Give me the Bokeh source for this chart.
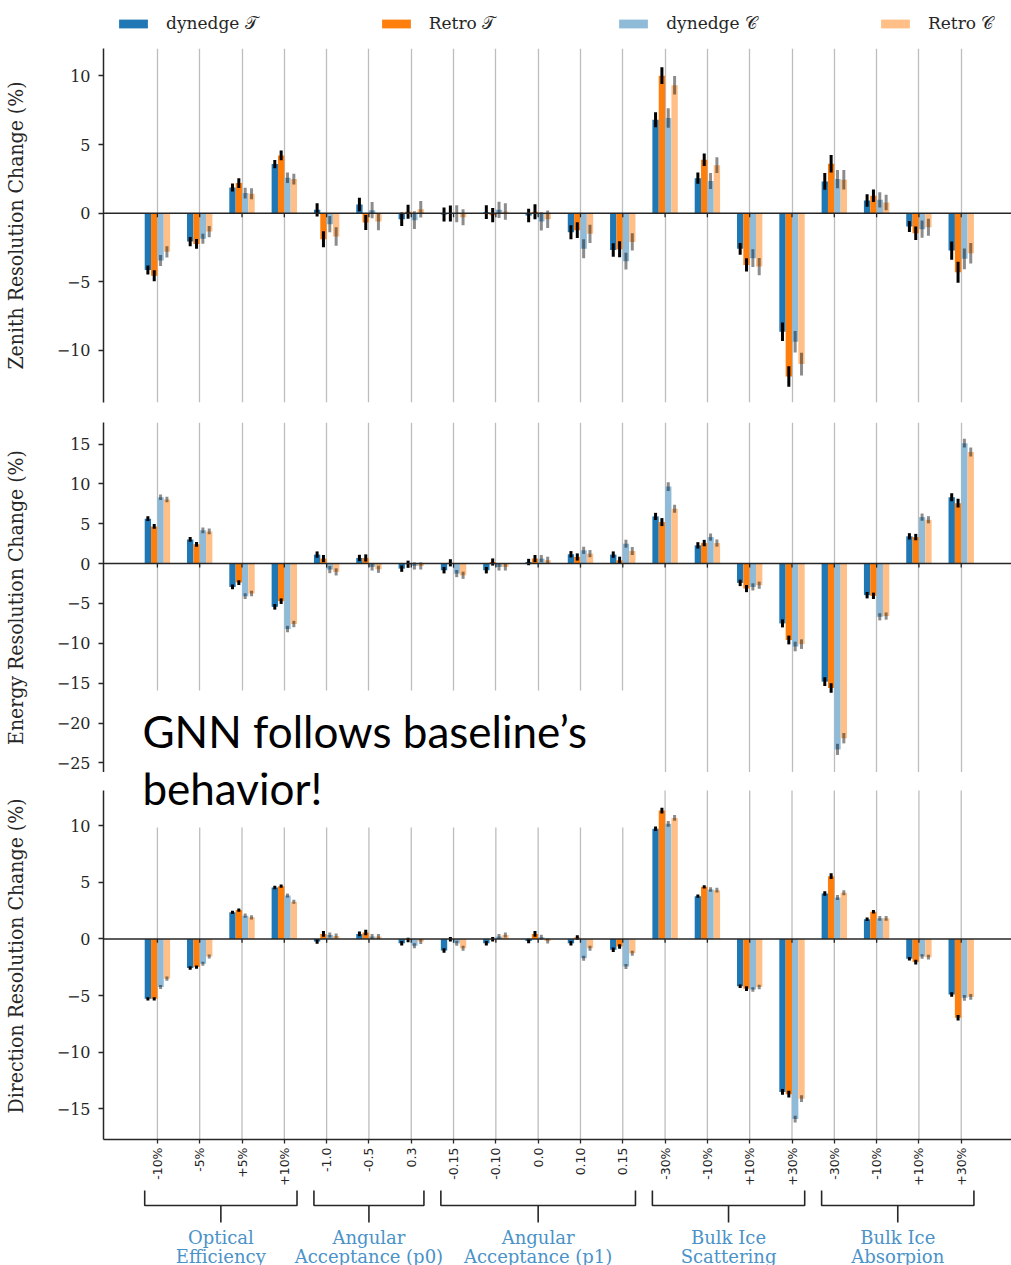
import numpy as np
from bokeh.plotting import figure
from bokeh.models import (Range1d, FixedTicker, Span, Legend, LegendItem,
                          BoxAnnotation, Label)
from bokeh.layouts import column
from bokeh.embed import file_html
from bokeh.resources import INLINE
from bokeh.core.properties import value

# ---------------- data ----------------
tick_labels = ["-10%", "-5%", "+5%", "+10%",
               "-1.0", "-0.5", "0.3",
               "-0.15", "-0.10", "0.0", "0.10", "0.15",
               "-30%", "-10%", "+10%", "+30%",
               "-30%", "-10%", "+10%", "+30%"]
group_names = ["Optical\nEfficiency", "Angular\nAcceptance (p0)",
               "Angular\nAcceptance (p1)", "Bulk Ice\nScattering",
               "Bulk Ice\nAbsorpion"]
group_first = [0, 4, 7, 12, 16]
group_last = [3, 6, 11, 15, 19]
series_names = ["dynedge \U0001D4AF", "Retro \U0001D4AF",
                "dynedge \U0001D49E", "Retro \U0001D49E"]

# Zenith resolution change (%)
zen_dyn_T = [-4.14, -2.07, 1.87, 3.58, 0.24, 0.63, -0.44, -0.10, 0.07, -0.17,
             -1.39, -2.68, 6.81, 2.55, -2.60, -8.64, 2.31, 0.92, -0.97, -2.73]
zen_ret_T = [-4.57, -2.24, 2.19, 4.21, -1.90, -0.68, 0.10, -0.02, -0.15, 0.10,
             -1.24, -2.63, 10.02, 3.89, -3.77, -11.90, 3.60, 1.27, -1.46, -4.31]
zen_dyn_C = [-3.45, -1.87, 1.46, 2.58, -0.80, 0.22, -0.51, -0.05, 0.24, -0.60,
             -2.60, -3.50, 6.93, 2.34, -3.28, -9.37, 2.48, 0.97, -1.17, -3.33]
zen_ret_C = [-2.82, -1.34, 1.41, 2.48, -1.70, -0.61, 0.29, -0.30, 0.12, -0.44,
             -1.51, -2.10, 9.32, 3.50, -3.89, -11.00, 2.43, 0.78, -1.02, -2.92]
zen_err_dyn_T = [0.33, 0.34, 0.30, 0.30, 0.49, 0.49, 0.49, 0.51, 0.50, 0.49,
                 0.51, 0.49, 0.55, 0.41, 0.43, 0.67, 0.61, 0.45, 0.40, 0.67]
zen_err_ret_T = [0.40, 0.36, 0.36, 0.36, 0.58, 0.55, 0.51, 0.58, 0.52, 0.55,
                 0.57, 0.58, 0.61, 0.46, 0.49, 0.75, 0.64, 0.46, 0.49, 0.77]
zen_err_dyn_C = [0.40, 0.36, 0.40, 0.39, 0.60, 0.60, 0.64, 0.62, 0.60, 0.67,
                 0.69, 0.61, 0.71, 0.58, 0.64, 0.79, 0.67, 0.56, 0.63, 0.75]
zen_err_ret_C = [0.41, 0.41, 0.40, 0.39, 0.67, 0.63, 0.60, 0.58, 0.60, 0.64,
                 0.67, 0.63, 0.67, 0.58, 0.63, 0.83, 0.71, 0.56, 0.62, 0.75]

# Energy resolution change (%)
ene_dyn_T = [5.63, 3.04, -2.92, -5.42, 1.13, 0.71, -0.63, -0.83, -0.83, 0.20,
             1.17, 1.13, 5.92, 2.29, -2.42, -7.50, -14.80, -3.96, 3.42, 8.33]
ene_ret_T = [4.67, 2.42, -2.38, -4.71, 0.63, 0.71, -0.08, 0.10, 0.20, 0.63,
             0.83, 0.42, 5.21, 2.58, -3.13, -9.58, -15.60, -4.04, 3.33, 7.58]
ene_dyn_C = [8.33, 4.17, -4.08, -8.21, -0.75, -0.42, -0.29, -1.25, -0.42, 0.63,
             1.67, 2.50, 9.67, 3.33, -2.92, -10.40, -23.30, -6.67, 5.83, 15.10]
ene_ret_C = [8.04, 4.04, -3.75, -7.58, -1.04, -0.71, -0.29, -1.46, -0.42, 0.42,
             1.25, 1.58, 6.88, 2.58, -2.71, -10.10, -21.90, -6.58, 5.50, 14.00]
ene_err_dyn_T = [0.30, 0.30, 0.30, 0.35, 0.40, 0.40, 0.40, 0.40, 0.40, 0.40,
                 0.40, 0.40, 0.45, 0.40, 0.40, 0.50, 0.55, 0.40, 0.40, 0.50]
ene_err_ret_T = [0.30, 0.30, 0.30, 0.35, 0.45, 0.45, 0.45, 0.45, 0.45, 0.45,
                 0.45, 0.45, 0.50, 0.40, 0.45, 0.55, 0.60, 0.40, 0.40, 0.55]
ene_err_dyn_C = [0.35, 0.35, 0.35, 0.40, 0.45, 0.45, 0.45, 0.45, 0.45, 0.45,
                 0.45, 0.50, 0.55, 0.45, 0.45, 0.60, 0.70, 0.45, 0.45, 0.55]
ene_err_ret_C = [0.35, 0.35, 0.35, 0.40, 0.45, 0.45, 0.45, 0.45, 0.45, 0.45,
                 0.45, 0.50, 0.50, 0.45, 0.45, 0.60, 0.65, 0.45, 0.45, 0.55]

# Direction resolution change (%)
dir_dyn_T = [-5.29, -2.57, 2.34, 4.53, -0.23, 0.44, -0.38, -1.02, -0.38, -0.18,
             -0.38, -0.96, 9.71, 3.77, -4.18, -13.50, 4.01, 1.73, -1.75, -4.91]
dir_ret_T = [-5.29, -2.49, 2.54, 4.65, 0.44, 0.56, -0.09, -0.03, -0.03, 0.44,
             0.12, -0.67, 11.32, 4.59, -4.39, -13.70, 5.53, 2.40, -2.05, -6.96]
dir_dyn_C = [-4.24, -2.19, 2.05, 3.83, 0.35, 0.20, -0.61, -0.38, 0.20, 0.15,
             -1.70, -2.43, 10.15, 4.36, -4.47, -15.90, 3.65, 1.81, -1.55, -5.20]
dir_ret_C = [-3.51, -1.55, 1.90, 3.27, 0.26, 0.20, -0.23, -0.82, 0.35, -0.18,
             -0.82, -1.26, 10.67, 4.30, -4.24, -14.10, 4.06, 1.81, -1.61, -5.12]
dir_err_dyn_T = [0.15, 0.15, 0.15, 0.15, 0.20, 0.20, 0.20, 0.20, 0.20, 0.20,
                 0.20, 0.20, 0.20, 0.15, 0.15, 0.25, 0.20, 0.15, 0.15, 0.20]
dir_err_ret_T = [0.15, 0.15, 0.15, 0.15, 0.25, 0.25, 0.20, 0.20, 0.20, 0.25,
                 0.20, 0.20, 0.25, 0.15, 0.20, 0.30, 0.25, 0.15, 0.20, 0.25]
dir_err_dyn_C = [0.18, 0.18, 0.18, 0.18, 0.22, 0.22, 0.22, 0.22, 0.22, 0.22,
                 0.22, 0.22, 0.25, 0.20, 0.20, 0.30, 0.22, 0.20, 0.20, 0.25]
dir_err_ret_C = [0.18, 0.18, 0.18, 0.18, 0.22, 0.22, 0.22, 0.22, 0.22, 0.22,
                 0.22, 0.22, 0.25, 0.20, 0.20, 0.30, 0.22, 0.20, 0.20, 0.25]

# ---------------- styling ----------------
bar_colors = ["#1f77b4", "#ff7f0e", "#8fbbd9", "#ffbf86"]
err_alphas = [1.0, 1.0, 0.45, 0.45]
offsets = [-0.225, -0.075, 0.075, 0.225]
BAR_W = 0.15
DARK = "#262626"
GRID = "#bdbdbd"
SERIF = "DejaVu Serif"
LABEL_FONT = "'DejaVu Serif Condensed', 'DejaVu Serif'"
N = len(tick_labels)
cats = np.arange(N)
FIG_W = 1011
LEFT_B = 101
x_range = Range1d(-1.274, -1.274 + (FIG_W - LEFT_B) / 42.4)


def make_panel(vals, errs, ylo, yhi, yticks, ylabel, frame_h, top_b, bottom_b,
               show_x, axis_top=None):
    p = figure(width=FIG_W, height=top_b + frame_h + bottom_b,
               x_range=x_range, y_range=Range1d(ylo, yhi),
               output_backend="svg", toolbar_location=None,
               min_border_left=LEFT_B, min_border_right=0,
               min_border_top=top_b, min_border_bottom=bottom_b,
               x_axis_location="below" if show_x else None)
    p.outline_line_color = None
    p.background_fill_color = "white"
    p.border_fill_color = "white"
    p.ygrid.visible = False
    if axis_top is None:
        p.xgrid.ticker = FixedTicker(ticks=list(cats))
        p.xgrid.grid_line_color = GRID
        p.xgrid.grid_line_width = 1.3
    else:
        p.xgrid.visible = False
        p.segment(x0=cats, y0=np.full(N, ylo), x1=cats,
                  y1=np.full(N, axis_top), line_color=GRID, line_width=1.3)

    for k in range(4):
        xs = cats + offsets[k]
        p.vbar(x=xs, top=vals[k], bottom=0, width=BAR_W,
               fill_color=bar_colors[k], line_color=None)
    for k in range(4):
        xs = cats + offsets[k]
        v = np.array(vals[k])
        e = np.array(errs[k])
        p.segment(x0=xs, y0=v - e, x1=xs, y1=v + e, line_color="black",
                  line_alpha=err_alphas[k], line_width=3)

    p.add_layout(Span(location=0, dimension="width", line_color=DARK,
                      line_width=1.5))
    tick_len = 4.0 * (yhi - ylo) / frame_h
    p.segment(x0=cats, y0=np.zeros(N), x1=cats, y1=np.full(N, -tick_len),
              line_color=DARK, line_width=1.3)

    ax = p.yaxis[0]
    ax.ticker = FixedTicker(ticks=yticks)
    if axis_top is not None:
        ax.bounds = (ylo, axis_top)
    ax.major_label_overrides = {t: (("\u2212" + str(abs(t))) if t < 0 else str(t))
                                for t in yticks}
    ax.axis_label = ylabel
    ax.axis_label_text_font = LABEL_FONT
    ax.axis_label_text_font_style = "normal"
    ax.axis_label_text_font_size = "21px"
    ax.axis_label_text_color = DARK
    ax.axis_label_standoff = 26
    ax.major_label_text_font = SERIF
    ax.major_label_text_font_size = "16px"
    ax.major_label_text_color = DARK
    ax.major_label_standoff = 8
    ax.minor_tick_line_color = None
    ax.major_tick_out = 5
    ax.major_tick_in = 0
    ax.major_tick_line_color = DARK
    ax.major_tick_line_width = 1.3
    ax.axis_line_color = DARK
    ax.axis_line_width = 1.5

    if show_x:
        xa = p.xaxis[0]
        xa.ticker = FixedTicker(ticks=list(cats))
        xa.major_label_overrides = {int(i): tick_labels[i] for i in range(N)}
        xa.major_label_orientation = np.pi / 2
        xa.major_label_text_font = "DejaVu Sans"
        xa.major_label_text_font_size = "12.5px"
        xa.major_label_text_color = DARK
        xa.major_label_standoff = 4
        xa.minor_tick_line_color = None
        xa.major_tick_out = 4
        xa.major_tick_in = 0
        xa.major_tick_line_color = DARK
        xa.major_tick_line_width = 1.3
        xa.axis_line_color = DARK
        xa.axis_line_width = 1.5
    return p


# ---------------- legend row ----------------
p0 = figure(width=FIG_W, height=48, x_range=Range1d(100, 101),
            y_range=Range1d(0, 1), output_backend="svg", toolbar_location=None,
            min_border_left=LEFT_B, min_border_right=0, min_border_top=0,
            min_border_bottom=0, x_axis_location=None, y_axis_location=None)
p0.outline_line_color = None
p0.grid.visible = False
legend_src = [zen_dyn_T, zen_ret_T, zen_dyn_C, zen_ret_C]
legend_rs = []
for k in range(4):
    r = p0.vbar(x=cats + offsets[k], top=legend_src[k], bottom=0, width=BAR_W,
                fill_color=bar_colors[k], line_color=None)
    r.visible = False
    legend_rs.append(r)
legend = Legend(items=[LegendItem(label=series_names[k], renderers=[legend_rs[k]])
                       for k in range(4)],
                orientation="horizontal", location=(12, 15))
legend.label_text_font = SERIF
legend.label_text_font_size = "17px"
legend.label_text_color = DARK
legend.glyph_width = 36
legend.glyph_height = 11
legend.label_standoff = 15
legend.spacing = 120
legend.padding = 5
legend.margin = 0
legend.border_line_color = None
legend.background_fill_alpha = 0
p0.add_layout(legend)

p1 = make_panel([zen_dyn_T, zen_ret_T, zen_dyn_C, zen_ret_C],
                [zen_err_dyn_T, zen_err_ret_T, zen_err_dyn_C, zen_err_ret_C],
                -13.8, 12.0, [-10, -5, 0, 5, 10],
                "Zenith Resolution Change (%)", 354, 0, 10, False)

p2 = make_panel([ene_dyn_T, ene_ret_T, ene_dyn_C, ene_ret_C],
                [ene_err_dyn_T, ene_err_ret_T, ene_err_dyn_C, ene_err_ret_C],
                -26.2, 17.7, [-25, -20, -15, -10, -5, 0, 5, 10, 15],
                "Energy Resolution Change (%)", 350, 10, 0, False)

# panel 3: frame starts 18px above its axis top so the annotation is not clipped
p3 = make_panel([dir_dyn_T, dir_ret_T, dir_dyn_C, dir_ret_C],
                [dir_err_dyn_T, dir_err_ret_T, dir_err_dyn_C, dir_err_ret_C],
                -17.7, 13.1 + 18 / 11.4, [-15, -10, -5, 0, 5, 10],
                "Direction Resolution Change (%)", 369, 0, 47, True,
                axis_top=13.1)

# annotation "GNN follows baseline's behavior!"
p2.add_layout(BoxAnnotation(left=-0.59, right=11.03, top=-15.9, bottom=-26.2,
                            fill_color="white", fill_alpha=1.0,
                            line_color=None, level="annotation"))
p3.add_layout(BoxAnnotation(left=-0.59, right=11.03, top=14.7, bottom=9.82,
                            fill_color="white", fill_alpha=1.0,
                            line_color=None, level="annotation"))
p2.add_layout(Label(x=-0.354, y=-20.95, text="GNN follows baseline\u2019s",
                    text_font="Lato", text_font_size="44px",
                    text_color="black", text_baseline="alphabetic",
                    level="overlay"))
p3.add_layout(Label(x=-0.354, y=13.3, text="behavior!",
                    text_font="Lato", text_font_size="44px",
                    text_color="black", text_baseline="alphabetic",
                    level="overlay"))

# ---------------- brackets and group labels ----------------
p4 = figure(width=FIG_W, height=77, x_range=x_range, y_range=Range1d(77, 0),
            output_backend="svg", toolbar_location=None,
            min_border_left=LEFT_B, min_border_right=0, min_border_top=0,
            min_border_bottom=0, x_axis_location=None, y_axis_location=None)
p4.outline_line_color = None
p4.grid.visible = False
gf = np.array(group_first, dtype=float)
gl = np.array(group_last, dtype=float)
gc = (gf + gl) / 2.0
p4.multi_line(xs=[[a - 0.3, a - 0.3, b + 0.3, b + 0.3] for a, b in zip(gf, gl)],
              ys=[[2, 17, 17, 2] for _ in gf], line_color=DARK, line_width=1.6)
p4.segment(x0=gc, y0=np.full(len(gc), 17), x1=gc, y1=np.full(len(gc), 34),
           line_color=DARK, line_width=1.6)
p4.text(x=gc, y=np.full(len(gc), 38), text=group_names, text_align="center",
        text_baseline="top", text_font_size="18px", text_line_height=0.95,
        text_color="#4a92c8", text_font=value(SERIF))

layout = column(p0, p1, p2, p3, p4, spacing=0)
open("out.html", "w").write(file_html(layout, INLINE))
